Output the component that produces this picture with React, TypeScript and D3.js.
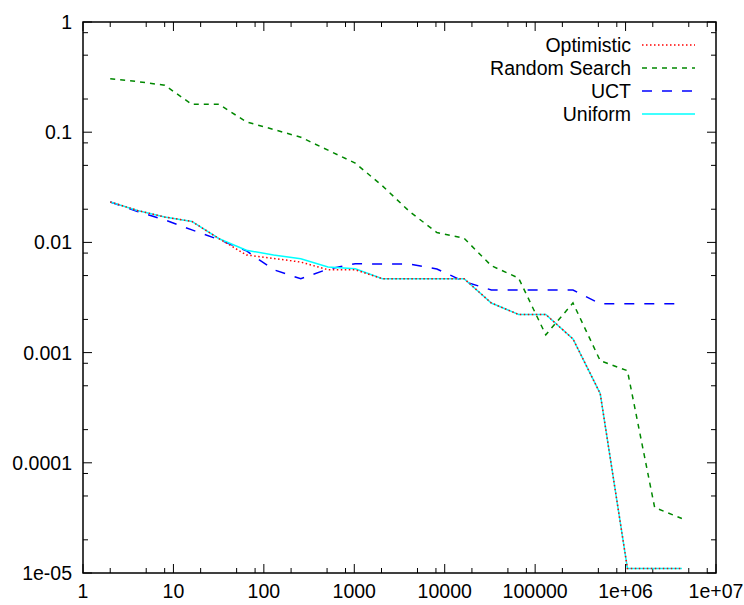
import React, { useRef, useEffect } from "react";
import * as d3 from "d3";

// sample sizes (x) shared by every series
const samples = [2, 4, 8, 16, 32, 64, 128, 256, 512, 1024, 2048, 4096, 8192, 16384, 32768,
    65536, 131072, 262144, 524288, 1048576, 2097152, 4194304];

const optimistic = [0.0233, 0.0195, 0.017, 0.0155, 0.0108, 0.0077, 0.00715, 0.00663, 0.00565, 0.00565,
    0.00468, 0.00468, 0.00468, 0.00468, 0.00282, 0.00222, 0.00222, 0.00133, 0.000425, 1.1e-5, 1.1e-5, 1.1e-5];
const randomSearch = [0.306, 0.288, 0.267, 0.179, 0.179, 0.124, 0.106, 0.09, 0.0687, 0.0524,
    0.0326, 0.019, 0.0123, 0.0109, 0.00614, 0.00475, 0.00145, 0.00282, 0.000844, 0.000685, 3.93e-5, 3.12e-5];
const uct = [0.0233, 0.0191, 0.016, 0.013, 0.0106, 0.0084, 0.00565, 0.00468, 0.00573, 0.0064,
    0.00636, 0.00636, 0.00573, 0.00442, 0.0037, 0.0037, 0.0037, 0.0037, 0.00277, 0.00277, 0.00277, 0.00277];
const uniform = [0.0233, 0.0195, 0.017, 0.0155, 0.0108, 0.0085, 0.00767, 0.0071, 0.00597, 0.00577,
    0.00468, 0.00468, 0.00468, 0.00468, 0.00282, 0.00222, 0.00222, 0.00133, 0.000425, 1.1e-5, 1.1e-5, 1.1e-5];

const xTicks = [1, 10, 100, 1000, 10000, 100000, 1e6, 1e7];
const xTickLabels = ["1", "10", "100", "1000", "10000", "100000", "1e+06", "1e+07"];
const yTicks = [1e-5, 1e-4, 1e-3, 1e-2, 1e-1, 1];
const yTickLabels = ["1e-05", "0.0001", "0.001", "0.01", "0.1", "1"];

const series = [
    { label: "Optimistic", values: optimistic, color: "#ff0000", dash: "1.5,2.5", z: 3 },
    { label: "Random Search", values: randomSearch, color: "#008800", dash: "5,5", z: 0 },
    { label: "UCT", values: uct, color: "#0000ff", dash: "10,10", z: 1 },
    { label: "Uniform", values: uniform, color: "#00ffff", dash: null, z: 2 },
];

const font = "'Liberation Sans', Arial, sans-serif";
const fontSize = 19.5;

export default function App() {
    const svgRef = useRef<SVGSVGElement>(null);

    useEffect(() => {
        const width = 744, height = 605;
        const left = 83, right = 716, top = 22, bottom = 573;

        const svg = d3.select(svgRef.current);
        svg.selectAll("*").remove();
        svg.attr("width", width).attr("height", height);

        const x = d3.scaleLog().domain([1, 1e7]).range([left, right]);
        const y = d3.scaleLog().domain([1e-5, 1]).range([bottom, top]);

        // minor ticks at 2, 5, 8 of each decade
        const minor = (lo: number, hi: number) => {
            const out: number[] = [];
            for (let d = lo; d < hi; d *= 10) [2, 5, 8].forEach(m => out.push(d * m));
            return out;
        };
        const g = svg.append("g").attr("stroke", "black").attr("stroke-width", 1);

        xTicks.forEach(t => {
            g.append("line").attr("x1", x(t)).attr("x2", x(t)).attr("y1", bottom).attr("y2", bottom - 9);
            g.append("line").attr("x1", x(t)).attr("x2", x(t)).attr("y1", top).attr("y2", top + 9);
        });
        minor(1, 1e7).forEach(t => {
            g.append("line").attr("x1", x(t)).attr("x2", x(t)).attr("y1", bottom).attr("y2", bottom - 5);
            g.append("line").attr("x1", x(t)).attr("x2", x(t)).attr("y1", top).attr("y2", top + 5);
        });
        yTicks.forEach(t => {
            g.append("line").attr("x1", left).attr("x2", left + 9).attr("y1", y(t)).attr("y2", y(t));
            g.append("line").attr("x1", right).attr("x2", right - 9).attr("y1", y(t)).attr("y2", y(t));
        });
        minor(1e-5, 1).forEach(t => {
            g.append("line").attr("x1", left).attr("x2", left + 5).attr("y1", y(t)).attr("y2", y(t));
            g.append("line").attr("x1", right).attr("x2", right - 5).attr("y1", y(t)).attr("y2", y(t));
        });

        svg.append("g")
            .selectAll("text")
            .data(xTicks)
            .enter()
            .append("text")
            .attr("x", d => x(d))
            .attr("y", bottom + 25)
            .attr("text-anchor", "middle")
            .text((d, i) => xTickLabels[i]);

        svg.append("g")
            .selectAll("text")
            .data(yTicks)
            .enter()
            .append("text")
            .attr("x", left - 11)
            .attr("y", d => y(d) + 7)
            .attr("text-anchor", "end")
            .text((d, i) => yTickLabels[i]);

        svg.selectAll("text")
            .attr("font-family", font)
            .attr("font-size", fontSize)
            .attr("fill", "black");

        const line = d3.line<number>()
            .x((d, i) => x(samples[i]))
            .y(d => y(d));

        // red dots end up on top of the cyan line, as in the original
        d3.sort(series, s => s.z).forEach(s => {
            svg.append("path")
                .attr("d", line(s.values))
                .attr("fill", "none")
                .attr("stroke", s.color)
                .attr("stroke-width", 1.5)
                .attr("stroke-dasharray", s.dash);
        });

        const legend = svg.append("g");
        series.forEach((s, i) => {
            const ly = 45 + i * 23;
            legend.append("text")
                .attr("x", 631)
                .attr("y", ly + 7)
                .attr("text-anchor", "end")
                .attr("font-family", font)
                .attr("font-size", fontSize)
                .text(s.label);
            legend.append("line")
                .attr("x1", 642).attr("x2", 695)
                .attr("y1", ly).attr("y2", ly)
                .attr("stroke", s.color)
                .attr("stroke-width", 1.5)
                .attr("stroke-dasharray", s.dash);
        });

        svg.append("rect")
            .attr("x", left).attr("y", top)
            .attr("width", right - left).attr("height", bottom - top)
            .attr("fill", "none")
            .attr("stroke", "black")
            .attr("stroke-width", 1.5);
    }, []);

    return (
        <svg ref={svgRef} style={{ position: "absolute", left: 0, top: 0, background: "white" }} />
    );
}
